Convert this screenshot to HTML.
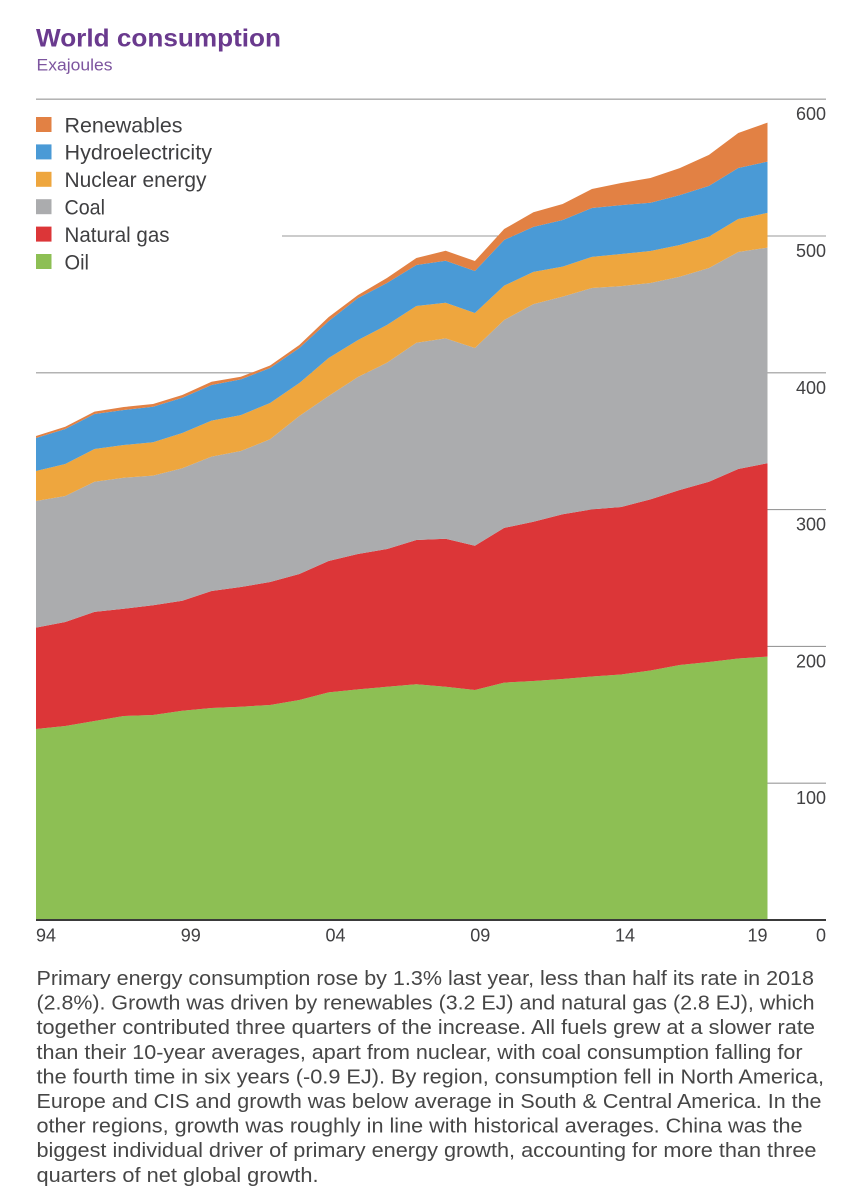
<!DOCTYPE html>
<html lang="en">
<head>
<meta charset="utf-8">
<title>World consumption</title>
<style>
html,body{margin:0;padding:0;background:#fff;width:850px;height:1200px;overflow:hidden}
svg{display:block}
text{font-family:"Liberation Sans",sans-serif}
.body-line{font-size:20px;fill:#464646}
.legend-label{font-size:21px;fill:#3f3f41}
.tick{font-size:18px;fill:#414143}
</style>
</head>
<body>
<svg id="chart" xmlns="http://www.w3.org/2000/svg" width="850" height="1200" viewBox="0 0 850 1200">
  <text x="36" y="46.5" font-size="25" font-weight="700" fill="#6a3a8e" textLength="245" lengthAdjust="spacingAndGlyphs">World consumption</text>
  <text x="36.5" y="70.5" font-size="17" fill="#7d559f" textLength="76" lengthAdjust="spacingAndGlyphs">Exajoules</text>
  <g id="grid"></g>
  <rect x="30" y="106" width="252" height="175" fill="#fff"></rect>
  <g id="areas"></g>
  <g id="axis"></g>
  <g id="legend"></g>
  <g>
    <text class="body-line" x="36.5" y="985" textLength="777.5" lengthAdjust="spacingAndGlyphs">Primary energy consumption rose by 1.3% last year, less than half its rate in 2018</text>
    <text class="body-line" x="36.5" y="1009.6" textLength="778" lengthAdjust="spacingAndGlyphs">(2.8%). Growth was driven by renewables (3.2 EJ) and natural gas (2.8 EJ), which</text>
    <text class="body-line" x="36.5" y="1034.2" textLength="778.5" lengthAdjust="spacingAndGlyphs">together contributed three quarters of the increase. All fuels grew at a slower rate</text>
    <text class="body-line" x="36.5" y="1058.8" textLength="766" lengthAdjust="spacingAndGlyphs">than their 10-year averages, apart from nuclear, with coal consumption falling for</text>
    <text class="body-line" x="36.5" y="1083.4" textLength="787.5" lengthAdjust="spacingAndGlyphs">the fourth time in six years (-0.9 EJ). By region, consumption fell in North America,</text>
    <text class="body-line" x="36.5" y="1108" textLength="785" lengthAdjust="spacingAndGlyphs">Europe and CIS and growth was below average in South &amp; Central America. In the</text>
    <text class="body-line" x="36.5" y="1132.6" textLength="766" lengthAdjust="spacingAndGlyphs">other regions, growth was roughly in line with historical averages. China was the</text>
    <text class="body-line" x="36.5" y="1157.2" textLength="780" lengthAdjust="spacingAndGlyphs">biggest individual driver of primary energy growth, accounting for more than three</text>
    <text class="body-line" x="36.5" y="1181.8" textLength="282" lengthAdjust="spacingAndGlyphs">quarters of net global growth.</text>
  </g>
</svg>
<script>
const years = [1994,1995,1996,1997,1998,1999,2000,2001,2002,2003,2004,2005,2006,2007,2008,2009,2010,2011,2012,2013,2014,2015,2016,2017,2018,2019];
const oil = [139.6,141.8,145.5,149.1,149.9,153.0,155.0,155.9,157.2,160.8,166.4,168.6,170.5,172.3,170.5,168.1,173.5,174.7,176.2,178.0,179.5,182.4,186.4,188.6,191.2,192.5];
const naturalGas = [74.1,76.0,79.7,78.4,80.2,80.4,85.5,87.5,89.9,92.1,96.0,98.9,100.7,105.5,108.2,105.5,113.1,116.4,120.4,122.2,122.4,125.1,127.9,131.8,138.5,141.4];
const coal = [92.6,92.1,95.2,95.8,94.7,96.8,98.2,99.4,104.3,115.5,120.6,129.4,136.2,144.2,146.5,144.5,152.0,159.1,159.1,161.8,161.5,158.1,155.9,156.2,158.6,157.6];
const nuclear = [21.9,23.4,23.9,23.9,24.4,25.8,26.3,26.3,26.5,24.1,27.8,27.0,27.6,26.8,26.0,25.6,25.1,23.6,21.9,22.7,23.4,23.4,23.2,22.9,24.1,25.4];
const hydro = [24.1,25.6,25.6,25.6,26.0,25.8,26.1,26.1,25.6,25.6,27.0,30.7,30.7,30.0,30.7,30.7,33.4,32.9,34.1,35.8,35.8,35.3,36.5,37.1,37.3,37.5];
const renewables = [1.5,1.7,1.7,2.2,2.0,2.0,2.4,1.9,1.8,2.2,2.9,2.2,3.7,5.1,7.3,7.3,8.0,10.7,11.7,13.9,16.1,18.1,19.7,22.7,25.6,28.5];
const seriesNames = ["Oil","Natural gas","Coal","Nuclear energy","Hydroelectricity","Renewables"];
const seriesValues = [oil,naturalGas,coal,nuclear,hydro,renewables];
const seriesColors = ["#8dbf54","#dc3638","#abacae","#eea63e","#4a9ad6","#e28144"];
const legendOrder = ["Renewables","Hydroelectricity","Nuclear energy","Coal","Natural gas","Oil"];
const yTicks = [600,500,400,300,200,100];
const xTickYears = [1994,1999,2004,2009,2014,2019];
const xTickLabels = ["94","99","04","09","14","19"];

const NS = "http://www.w3.org/2000/svg";
const plotLeft = 36, plotRight = 767.5, axisRight = 826, plotBottom = 920, pxPerUnit = 1.368;
const x = function (yr) { return plotLeft + (yr - years[0]) * (plotRight - plotLeft) / (years[years.length - 1] - years[0]); };
const y = function (v) { return plotBottom - v * pxPerUnit; };
const labelX = function (yr) { return plotLeft + (yr - years[0]) * 28.95; };
const slug = function (s) { return s.toLowerCase().replace(/\s+/g, '-'); };

const grid = document.getElementById('grid');
const axis = document.getElementById('axis');
const areas = document.getElementById('areas');
const legend = document.getElementById('legend');

yTicks.forEach(function (t) {
  const line = document.createElementNS(NS, 'line');
  
  
  line.setAttribute('x1', plotLeft);
  line.setAttribute('x2', axisRight);
  line.setAttribute('y1', y(t));
  line.setAttribute('y2', y(t));
  line.setAttribute('stroke', t === 600 ? '#a9a9a9' : '#9a9a9a');
  line.setAttribute('stroke-width', t === 600 ? 1.4 : 1.1);
  grid.appendChild(line);

  const label = document.createElementNS(NS, 'text');
  
  
  label.setAttribute('class', 'tick');
  label.setAttribute('x', axisRight);
  label.setAttribute('y', y(t) + 21);
  label.setAttribute('text-anchor', 'end');
  label.textContent = String(t);
  axis.appendChild(label);
});

const baseline = years.map(function () { return 0; });
seriesValues.forEach(function (values, i) {
  const top = baseline.map(function (b, k) { return b + values[k]; });
  let d = '';
  years.forEach(function (yr, k) { d += (k ? 'L' : 'M') + x(yr).toFixed(2) + ' ' + y(top[k]).toFixed(2); });
  for (let k = years.length - 1; k >= 0; k--) { d += 'L' + x(years[k]).toFixed(2) + ' ' + y(baseline[k]).toFixed(2); }
  d += 'Z';
  const path = document.createElementNS(NS, 'path');
  
  
  path.setAttribute('d', d);
  path.setAttribute('fill', seriesColors[i]);
  areas.appendChild(path);
  top.forEach(function (v, k) { baseline[k] = v; });
});

const xAxisLine = document.createElementNS(NS, 'line');


xAxisLine.setAttribute('x1', plotLeft);
xAxisLine.setAttribute('x2', axisRight);
xAxisLine.setAttribute('y1', y(0));
xAxisLine.setAttribute('y2', y(0));
xAxisLine.setAttribute('stroke', '#3a3a3a');
xAxisLine.setAttribute('stroke-width', 2);
axis.appendChild(xAxisLine);

xTickYears.forEach(function (yr, i) {
  const last = i === xTickYears.length - 1;
  const label = document.createElementNS(NS, 'text');
  
  
  label.setAttribute('class', 'tick');
  label.setAttribute('x', last ? x(yr) : labelX(yr));
  label.setAttribute('y', 941.7);
  label.setAttribute('text-anchor', last ? 'end' : 'start');
  label.textContent = xTickLabels[i];
  axis.appendChild(label);
});

const zeroLabel = document.createElementNS(NS, 'text');


zeroLabel.setAttribute('class', 'tick');
zeroLabel.setAttribute('x', axisRight);
zeroLabel.setAttribute('y', 941.7);
zeroLabel.setAttribute('text-anchor', 'end');
zeroLabel.textContent = '0';
axis.appendChild(zeroLabel);

const legendWidths = { "Renewables": 118, "Hydroelectricity": 147.5, "Nuclear energy": 142, "Coal": 40.5, "Natural gas": 105, "Oil": 24.5 };
legendOrder.forEach(function (name, i) {
  const rowTop = 117 + i * 27.4;
  const colour = seriesColors[seriesNames.indexOf(name)];
  const swatch = document.createElementNS(NS, 'rect');
  
  
  swatch.setAttribute('x', 36);
  swatch.setAttribute('y', rowTop);
  swatch.setAttribute('width', 15.5);
  swatch.setAttribute('height', 15);
  swatch.setAttribute('fill', colour);
  legend.appendChild(swatch);

  const label = document.createElementNS(NS, 'text');
  
  
  label.setAttribute('class', 'legend-label');
  label.setAttribute('x', 64.5);
  label.setAttribute('y', rowTop + 15.3);
  label.setAttribute('textLength', legendWidths[name]);
  label.setAttribute('lengthAdjust', 'spacingAndGlyphs');
  label.textContent = name;
  legend.appendChild(label);
});
</script>
</body>
</html>
